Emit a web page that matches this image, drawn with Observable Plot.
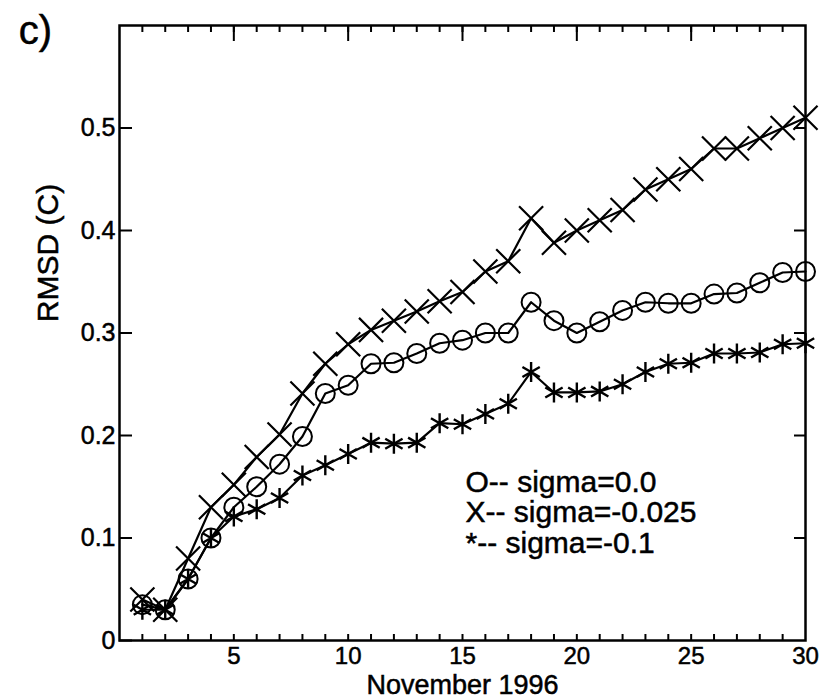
<!DOCTYPE html>
<html>
<head>
<meta charset="utf-8">
<script src="https://cdn.jsdelivr.net/npm/d3@7"></script>
<script src="https://cdn.jsdelivr.net/npm/@observablehq/plot@0.6"></script>
<style>
html, body { margin: 0; padding: 0; background: #fff; }
#chart svg text { stroke: #000; stroke-width: 0.5px; }
</style>
</head>
<body>
<div id="chart"></div>
<script>
// ---- data ----
const days = [1,2,3,4,5,6,7,8,9,10,11,12,13,14,15,16,17,18,19,20,21,22,23,24,25,26,27,28,29,30];
const sigma0 = [0.035,0.03,0.06,0.10,0.13,0.15,0.172,0.199,0.241,0.249,0.27,0.271,0.28,0.29,0.293,0.30,0.30,0.33,0.312,0.30,0.311,0.322,0.33,0.329,0.329,0.338,0.339,0.349,0.359,0.36];
const sigmaM025 = [0.04,0.03,0.08,0.13,0.152,0.179,0.201,0.241,0.27,0.289,0.303,0.312,0.321,0.331,0.34,0.36,0.37,0.412,0.388,0.40,0.41,0.42,0.44,0.45,0.46,0.48,0.48,0.49,0.50,0.51];
const sigmaM01 = [0.03,0.03,0.06,0.10,0.121,0.128,0.139,0.161,0.171,0.182,0.193,0.192,0.193,0.212,0.211,0.221,0.231,0.262,0.242,0.242,0.243,0.25,0.262,0.27,0.271,0.28,0.28,0.281,0.289,0.29];
const seriesNames = ["sigma=0.0", "sigma=-0.025", "sigma=-0.1"];
const seriesSymbols = ["circle", "times", "asterisk"];
const legendLines = ["O-- sigma=0.0", "X-- sigma=-0.025", "*-- sigma=-0.1"];
const xLabelTicks = [5, 10, 15, 20, 25, 30];
const xMajorTopTicks = [5, 10, 15, 20, 25];
const xMinorTicks = [1,2,3,4,5,6,7,8,9,10,11,12,13,14,15,16,17,18,19,20,21,22,23,24,25,26,27,28,29];
const yTicks = [0, 0.1, 0.2, 0.3, 0.4, 0.5];
const yTickLabels = ["0", "0.1", "0.2", "0.3", "0.4", "0.5"];
const yInnerTicks = [0.1, 0.2, 0.3, 0.4, 0.5];
const panelLabel = "c)";
const xTitle = "November 1996";
const yTitle = "RMSD (C)";

// ---- tidy table ----
const rows = [];
[sigma0, sigmaM025, sigmaM01].forEach((vals, k) =>
  vals.forEach((v, i) => rows.push({day: days[i], rmsd: v, series: seriesNames[k], symbol: seriesSymbols[k]}))
);
const bySymbol = s => rows.filter(d => d.symbol === s);
const blank = () => "";

const chart = Plot.plot({
  width: 819,
  height: 699,
  marginLeft: 119,
  marginRight: 14,
  marginTop: 25,
  marginBottom: 59,
  x: {domain: [0, 30], label: null},
  y: {domain: [0, 0.6], label: null},
  style: {fontFamily: "'Liberation Sans', Arial, Helvetica, sans-serif", background: "#fff", color: "#000", overflow: "visible"},
  marks: [
    Plot.line(rows, {x: "day", y: "rmsd", z: "series", stroke: "#000", strokeWidth: 2.2}),
    Plot.dot(bySymbol("circle"), {x: "day", y: "rmsd", symbol: "circle", r: 9.5, stroke: "#000", fill: "none", strokeWidth: 2}),
    Plot.dot(bySymbol("times"), {x: "day", y: "rmsd", symbol: "times", r: 11, stroke: "#000", strokeWidth: 2.2}),
    Plot.dot(bySymbol("asterisk"), {x: "day", y: "rmsd", symbol: "asterisk", r: 9.5, stroke: "#000", strokeWidth: 2.4}),
    Plot.frame({stroke: "#000", strokeWidth: 2.5}),
    // left axis: inward ticks with labels
    Plot.axisY({anchor: "left", ticks: yTicks, tickSize: -13, tickPadding: 17, strokeWidth: 2,
      tickFormat: d => yTickLabels[yTicks.indexOf(d)], fontSize: 25, label: null}),
    // right axis: inward ticks, no labels
    Plot.axisY({anchor: "right", ticks: yInnerTicks, tickSize: -12, strokeWidth: 2, tickFormat: blank, label: null}),
    // top axis: major + minor inward ticks
    Plot.axisX({anchor: "top", ticks: xMajorTopTicks, tickSize: -15, strokeWidth: 2, tickFormat: blank, label: null}),
    Plot.axisX({anchor: "top", ticks: xMinorTicks, tickSize: -6, strokeWidth: 2, tickFormat: blank, label: null}),
    // bottom axis: minor inward ticks + labels
    Plot.axisX({anchor: "bottom", ticks: xMinorTicks, tickSize: -6, strokeWidth: 2, tickFormat: blank, label: null}),
    Plot.axisX({anchor: "bottom", ticks: xLabelTicks, tickSize: 0, tickPadding: 6, fontSize: 24, label: null}),
    // titles
    Plot.text([xTitle], {text: d => d, frameAnchor: "bottom", dy: 45, lineAnchor: "middle", fontSize: 27}),
    Plot.text([yTitle], {text: d => d, frameAnchor: "left", dx: -71, dy: -80, rotate: -90, textAnchor: "middle", lineAnchor: "middle", fontSize: 30}),
    Plot.text([panelLabel], {text: d => d, frameAnchor: "top-left", dx: -84, dy: 6, textAnchor: "middle", lineAnchor: "middle", fontSize: 40}),
    // legend text
    Plot.text([legendLines.join("\n")], {text: d => d, frameAnchor: "top-left", dx: 346, dy: 487, textAnchor: "start", lineAnchor: "middle", lineHeight: 1.03, fontSize: 30})
  ]
});
document.getElementById("chart").appendChild(chart);
</script>
</body>
</html>
